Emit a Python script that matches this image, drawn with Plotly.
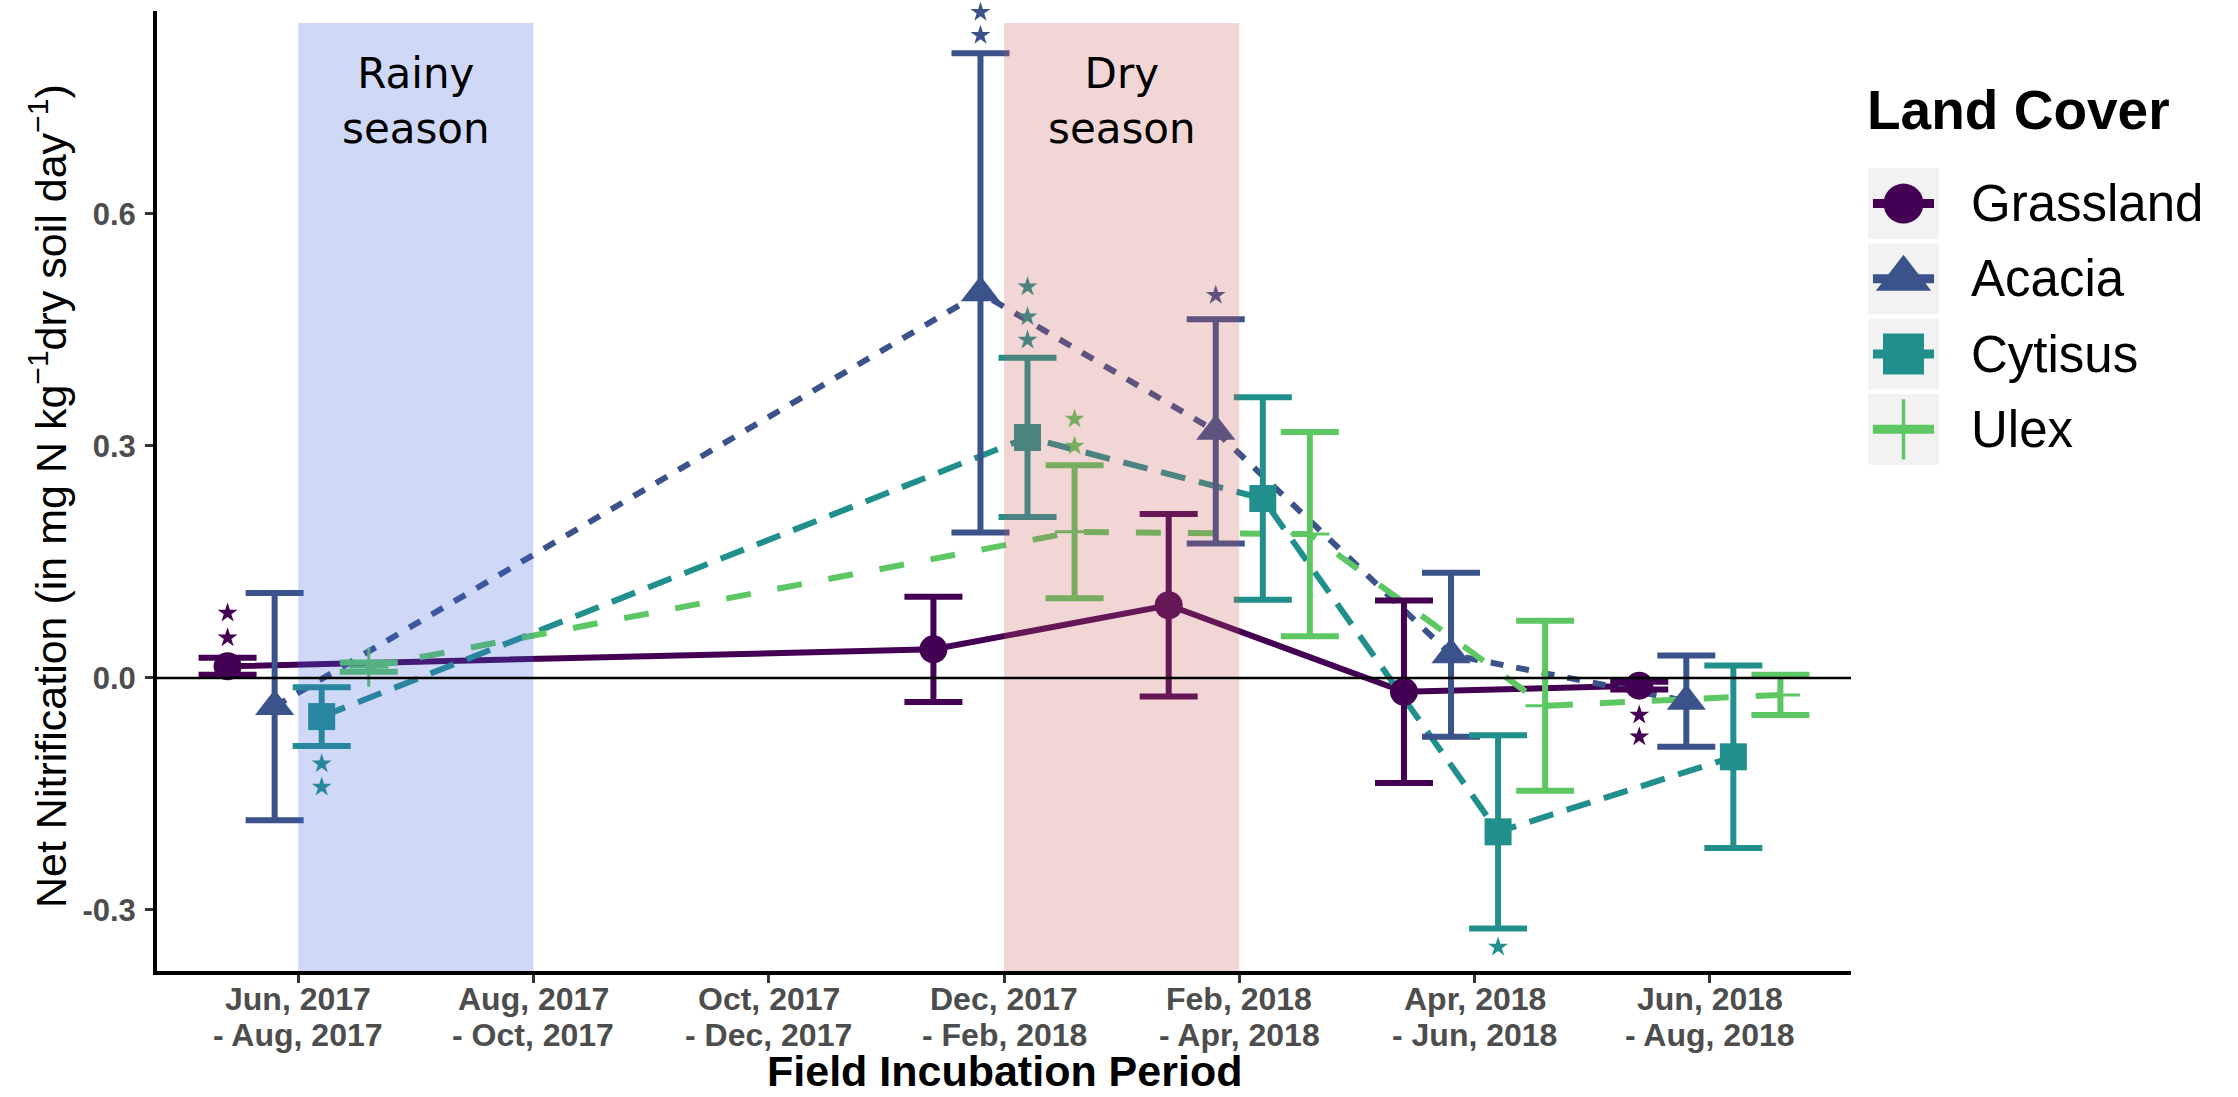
import plotly.graph_objects as go

# ---------------- data ----------------
period_index = [1, 2, 3, 4, 5, 6, 7]
period_start = ["Jun, 2017", "Aug, 2017", "Oct, 2017", "Dec, 2017", "Feb, 2018", "Apr, 2018", "Jun, 2018"]
period_end = ["- Aug, 2017", "- Oct, 2017", "- Dec, 2017", "- Feb, 2018", "- Apr, 2018", "- Jun, 2018", "- Aug, 2018"]
sampled_periods = [1, 4, 5, 6, 7]

land_covers = ["Grassland", "Acacia", "Cytisus", "Ulex"]

grassland_mean = [0.015, 0.037, 0.094, -0.018, -0.010]
grassland_se = [0.011, 0.068, 0.118, 0.118, 0.005]
acacia_mean = [-0.037, 0.498, 0.319, 0.030, -0.030]
acacia_se = [0.147, 0.310, 0.145, 0.106, 0.059]
cytisus_mean = [-0.050, 0.311, 0.232, -0.199, -0.102]
cytisus_se = [0.038, 0.103, 0.131, 0.125, 0.118]
ulex_mean = [0.014, 0.189, 0.186, -0.036, -0.022]
ulex_se = [0.006, 0.086, 0.132, 0.110, 0.026]

# significance stars (period index, y position)
grassland_star_period = [1, 1, 7, 7]
grassland_star_y = [0.084, 0.052, -0.048, -0.076]
acacia_star_period = [4, 4, 5]
acacia_star_y = [0.861, 0.831, 0.495]
cytisus_star_period = [1, 1, 4, 4, 4, 6]
cytisus_star_y = [-0.111, -0.141, 0.506, 0.467, 0.437, -0.348]
ulex_star_period = [4, 4]
ulex_star_y = [0.335, 0.300]

season_labels = ["Rainy<br>season", "Dry<br>season"]
season_start = [1, 4]
season_end = [2, 5]
season_top = 0.847

means = {"Grassland": grassland_mean, "Acacia": acacia_mean, "Cytisus": cytisus_mean, "Ulex": ulex_mean}
ses = {"Grassland": grassland_se, "Acacia": acacia_se, "Cytisus": cytisus_se, "Ulex": ulex_se}
star_periods = {"Grassland": grassland_star_period, "Acacia": acacia_star_period,
                "Cytisus": cytisus_star_period, "Ulex": ulex_star_period}
star_ys = {"Grassland": grassland_star_y, "Acacia": acacia_star_y,
           "Cytisus": cytisus_star_y, "Ulex": ulex_star_y}

# ---------------- style ----------------
colors = {"Grassland": "#440154", "Acacia": "#3B528B", "Cytisus": "#21908C", "Ulex": "#5DC863"}
dodge = {"Grassland": -0.3, "Acacia": -0.1, "Cytisus": 0.1, "Ulex": 0.3}
dashes = {"Grassland": "solid", "Acacia": "13px,13px", "Cytisus": "25px,14px", "Ulex": "25px,27px"}
symbols = {"Grassland": "circle", "Acacia": "triangle-up", "Cytisus": "square", "Ulex": "cross-thin"}
sizes = {"Grassland": 28, "Acacia": 34, "Cytisus": 27, "Ulex": 28}
leg_sizes = {"Grassland": 40, "Acacia": 48, "Cytisus": 41, "Ulex": 43}
season_fill = ["rgba(65,105,225,0.25)", "rgba(205,92,92,0.25)"]

SANS = "Liberation Sans, Arial, Helvetica, sans-serif"
W, H = 2238, 1097
ML, MR, MT, MB = 157, 20, 11, 126
PW = W - ML - MR
PH = H - MT - MB
plot_right = 1851
X_RANGE = [0.4, 7.6]
Y_RANGE = [-0.379, 0.8625]
TICK_FONT = dict(family=SANS, size=32, color="#4D4D4D", weight="bold")


def px_x(px):
    return (px - ML) / PW


def px_y(py):
    return (H - MB - py) / PH


fig = go.Figure()

# lines
for name in land_covers:
    xs = [p + dodge[name] for p in sampled_periods]
    fig.add_trace(go.Scatter(x=xs, y=means[name], mode="lines",
                             line=dict(color=colors[name], width=6, dash=dashes[name]),
                             showlegend=False, hoverinfo="skip"))
# error bars
for name in land_covers:
    xs = [p + dodge[name] for p in sampled_periods]
    fig.add_trace(go.Scatter(x=xs, y=means[name], mode="markers",
                             marker=dict(size=1, opacity=0, color=colors[name]),
                             error_y=dict(type="data", array=ses[name], color=colors[name],
                                          thickness=6, width=29),
                             showlegend=False, hoverinfo="skip"))
# points
for name in land_covers:
    xs = [p + dodge[name] for p in sampled_periods]
    lw = 3 if symbols[name] == "cross-thin" else 0
    fig.add_trace(go.Scatter(x=xs, y=means[name], mode="markers", name=name,
                             marker=dict(symbol=symbols[name], size=sizes[name], color=colors[name],
                                         line=dict(width=lw, color=colors[name])),
                             showlegend=False))
# stars
for name in land_covers:
    xs = [p + dodge[name] for p in star_periods[name]]
    fig.add_trace(go.Scatter(x=xs, y=star_ys[name], mode="markers",
                             marker=dict(symbol="star", size=15, color=colors[name]),
                             cliponaxis=False, showlegend=False, hoverinfo="skip"))

# manual legend keys on a helper axis
shapes = []
annotations = []
for i, name in enumerate(land_covers):
    shapes.append(dict(type="rect", xref="x2", yref="y2", x0=-1, x1=1, y0=i - 0.47, y1=i + 0.47,
                       fillcolor="#F2F2F2", line=dict(width=0), layer="below"))
    shapes.append(dict(type="line", xref="x2", yref="y2", x0=-0.86, x1=0.86, y0=i, y1=i,
                       line=dict(color=colors[name], width=9), layer="below"))
    lw = 3.5 if symbols[name] == "cross-thin" else 0
    fig.add_trace(go.Scatter(x=[0], y=[i], xaxis="x2", yaxis="y2", mode="markers",
                             marker=dict(symbol=symbols[name], size=leg_sizes[name], color=colors[name],
                                         line=dict(width=lw, color=colors[name])),
                             showlegend=False, hoverinfo="skip"))
    annotations.append(dict(text=name, xref="x2", yref="y2", x=1, y=i, xanchor="left", yanchor="middle",
                            xshift=30, showarrow=False, font=dict(family=SANS, size=51, color="black")))
annotations.append(dict(text="Land Cover", xref="paper", yref="paper", x=px_x(1868), y=px_y(110),
                        xanchor="left", yanchor="middle", xshift=-3, showarrow=False,
                        font=dict(family=SANS, size=55, color="black", weight="bold")))

# season bands
for lab, s, e, f in zip(season_labels, season_start, season_end, season_fill):
    shapes.append(dict(type="rect", xref="x", yref="y", x0=s, x1=e, y0=Y_RANGE[0], y1=season_top,
                       fillcolor=f, line=dict(width=0), layer="above"))
    annotations.append(dict(text=lab, xref="x", yref="y", x=(s + e) / 2, y=0.746, xanchor="center",
                            yanchor="middle", showarrow=False,
                            font=dict(family="DejaVu Sans", size=42, color="black")))
# zero line
shapes.append(dict(type="line", xref="x domain", yref="y", x0=0, x1=1, y0=0, y1=0,
                   line=dict(color="black", width=2.5), layer="above"))

# two-line x tick labels
for p, lab1, lab2 in zip(period_index, period_start, period_end):
    annotations.append(dict(text=lab1, xref="x", yref="paper", x=p, y=0, yanchor="top", xanchor="center",
                            yshift=-8, showarrow=False, font=TICK_FONT))
    annotations.append(dict(text=lab2, xref="x", yref="paper", x=p, y=0, yanchor="top", xanchor="center",
                            yshift=-44, showarrow=False, font=TICK_FONT))
# axis titles
annotations.append(dict(text="Field Incubation Period", xref="x domain", yref="paper", x=0.5, y=0,
                        yanchor="middle", xanchor="center", yshift=-100, showarrow=False,
                        font=dict(family=SANS, size=43, color="black", weight="bold")))
annotations.append(dict(text="Net Nitrification (in mg N kg<sup>\u22121</sup>dry soil day<sup>\u22121</sup>)",
                        xref="paper", yref="paper", x=0, y=px_y(496), xshift=-109, xanchor="center",
                        yanchor="middle", textangle=-90, showarrow=False,
                        font=dict(family=SANS, size=43, color="black")))

fig.update_layout(
    width=W, height=H,
    margin=dict(l=ML, r=MR, t=MT, b=MB),
    paper_bgcolor="white", plot_bgcolor="white",
    showlegend=False,
    xaxis=dict(domain=[0, px_x(plot_right)], range=X_RANGE, tickvals=period_index,
               showticklabels=False,
               ticks="outside", ticklen=8, tickwidth=2.5, tickcolor="#333333",
               showline=True, linecolor="black", linewidth=4, showgrid=False, zeroline=False,
               anchor="y"),
    yaxis=dict(range=Y_RANGE, tickvals=[-0.3, 0.0, 0.3, 0.6], ticktext=["-0.3", "0.0", "0.3", "0.6"],
               ticks="outside", ticklen=8, tickwidth=2.5, tickcolor="#333333",
               showline=True, linecolor="black", linewidth=4, showgrid=False, zeroline=False,
               ticklabelstandoff=3,
               tickfont=dict(family=SANS, size=31, color="#4D4D4D", weight="bold"), anchor="x"),
    xaxis2=dict(domain=[px_x(1868), px_x(1939)], range=[-1, 1], visible=False, anchor="y2", fixedrange=True),
    yaxis2=dict(domain=[px_y(467), px_y(166)], range=[3.5, -0.5], visible=False, anchor="x2", fixedrange=True),
    shapes=shapes,
    annotations=annotations,
)

fig.write_html("out.html")
